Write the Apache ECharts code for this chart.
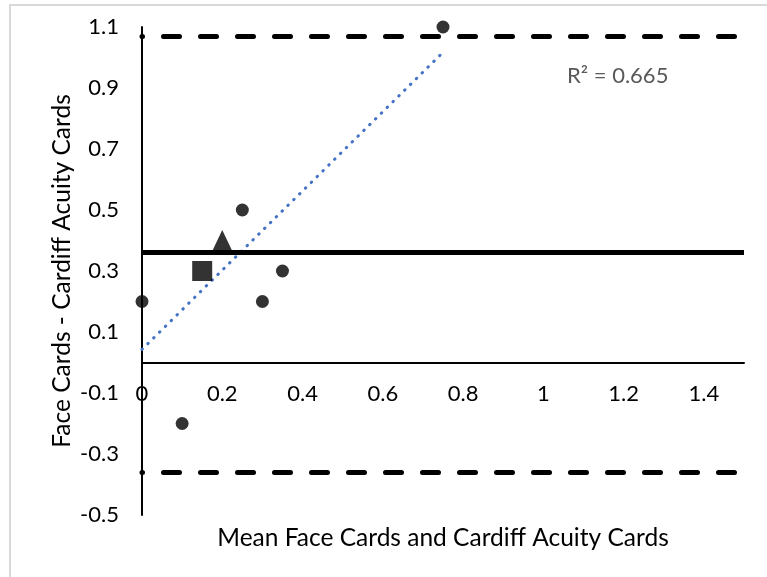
<!DOCTYPE html>
<html>
<head>
<meta charset="utf-8">
<title>Bland-Altman: Face Cards vs Cardiff Acuity Cards</title>
<script src="https://cdn.jsdelivr.net/npm/echarts@6/dist/echarts.min.js"></script>
<style>
  html, body { margin: 0; padding: 0; background: #ffffff; }
  #chart { width: 767px; height: 577px; }
</style>
</head>
<body>
<div id="chart"></div>
<script>
// Individual subjects (circles): mean of the two tests vs their difference
const circleMeans = [0, 0.1, 0.25, 0.3, 0.35, 0.75];
const circleDiffs = [0.2, -0.2, 0.5, 0.2, 0.3, 1.1];
// Highlighted subjects
const squareMeans = [0.15];
const squareDiffs = [0.3];
const triangleMeans = [0.2];
const triangleDiffs = [0.4];

// Bias and 95% limits of agreement
const meanDifference = 0.357;
const upperLimit = 1.07;
const lowerLimit = -0.356;

// Linear trendline end points and its fit
const trendMeans = [0, 0.75];
const trendDiffs = [0.043, 1.017];
const rSquaredLabel = 'R\u00B2 = 0.665';

// Axis tick labels
const xTickValues = [0, 0.2, 0.4, 0.6, 0.8, 1, 1.2, 1.4];
const yTickValues = [-0.5, -0.3, -0.1, 0.1, 0.3, 0.5, 0.7, 0.9, 1.1];

const xTitle = 'Mean Face Cards and Cardiff Acuity Cards';
const yTitle = 'Face Cards - Cardiff Acuity Cards';

const FONT = 'Lato';

// Plot area and value ranges
const GRID = { left: 142, right: 23, top: 27, bottom: 62 };
const CHART_H = 577;
const X_MIN = 0, X_MAX = 1.5;
const Y_MIN = -0.5, Y_MAX = 1.1;

function pairs(xs, ys) {
  return xs.map(function (x, i) { return [x, ys[i]]; });
}

// The horizontal axis (with its labels) sits on the y = 0 line
const plotHeight = CHART_H - GRID.top - GRID.bottom;
const xAxisOffset = -plotHeight * (0 - Y_MIN) / (Y_MAX - Y_MIN);

const chart = echarts.init(document.getElementById('chart'), null, { renderer: 'canvas' });

const dashStyle = {
  color: '#000000',
  width: 5,
  type: [16, 21],
  dashOffset: 15.5,
  cap: 'round'
};

chart.setOption({
  animation: false,
  backgroundColor: '#ffffff',
  grid: { left: GRID.left, right: GRID.right, top: GRID.top, bottom: GRID.bottom, containLabel: false },
  xAxis: {
    type: 'value',
    min: X_MIN,
    max: X_MAX,
    position: 'bottom',
    offset: xAxisOffset,
    axisLine: { show: true, onZero: false, lineStyle: { color: '#000000', width: 2 } },
    axisTick: { show: false },
    splitLine: { show: false },
    axisLabel: {
      customValues: xTickValues,
      margin: 20,
      fontFamily: FONT,
      fontSize: 22,
      color: '#000000'
    }
  },
  yAxis: {
    type: 'value',
    min: Y_MIN,
    max: Y_MAX,
    axisLine: { show: true, onZero: false, lineStyle: { color: '#000000', width: 2 } },
    axisTick: { show: false },
    splitLine: { show: false },
    axisLabel: {
      customValues: yTickValues,
      margin: 23,
      fontFamily: FONT,
      fontSize: 22,
      color: '#000000'
    }
  },
  graphic: [
    {
      type: 'rect',
      silent: true,
      shape: { x: 10, y: 5, width: 800, height: 620 },
      style: { fill: 'none', stroke: '#d9d9d9', lineWidth: 2 }
    },
    {
      type: 'text',
      silent: true,
      x: 443, y: 538,
      style: {
        text: xTitle,
        fontFamily: FONT, fontSize: 24.5, fill: '#000000',
        align: 'center', verticalAlign: 'middle'
      }
    },
    {
      type: 'text',
      silent: true,
      x: 62, y: 271,
      rotation: Math.PI / 2,
      style: {
        text: yTitle,
        fontFamily: FONT, fontSize: 24.5, fill: '#000000',
        align: 'center', verticalAlign: 'middle'
      }
    },
    {
      type: 'text',
      silent: true,
      x: 567, y: 76,
      style: {
        text: rSquaredLabel,
        fontFamily: FONT, fontSize: 22, fill: '#595959',
        align: 'left', verticalAlign: 'middle'
      }
    }
  ],
  series: [
    {
      name: 'Limits',
      type: 'line',
      data: [],
      silent: true,
      z: 1,
      markLine: {
        silent: true,
        symbol: ['none', 'none'],
        label: { show: false },
        emphasis: { disabled: true },
        data: [
          { yAxis: meanDifference, lineStyle: { color: '#000000', width: 5, type: 'solid' } },
          { yAxis: upperLimit, lineStyle: dashStyle },
          { yAxis: lowerLimit, lineStyle: dashStyle }
        ]
      }
    },
    {
      name: 'Trend',
      type: 'line',
      data: pairs(trendMeans, trendDiffs),
      showSymbol: false,
      symbol: 'none',
      silent: true,
      z: 3,
      lineStyle: { color: '#4472c4', width: 3, type: [0.5, 7.7], cap: 'round' }
    },
    {
      name: 'Subjects',
      type: 'scatter',
      data: pairs(circleMeans, circleDiffs),
      symbol: 'circle',
      symbolSize: 13,
      z: 4,
      itemStyle: { color: '#000000' }
    },
    {
      name: 'Square',
      type: 'scatter',
      data: pairs(squareMeans, squareDiffs),
      symbol: 'rect',
      symbolSize: 20,
      z: 4,
      itemStyle: { color: '#000000' }
    },
    {
      name: 'Triangle',
      type: 'scatter',
      data: pairs(triangleMeans, triangleDiffs),
      symbol: 'triangle',
      symbolSize: [20, 21],
      z: 4,
      itemStyle: { color: '#000000' }
    }
  ]
});
</script>
</body>
</html>
